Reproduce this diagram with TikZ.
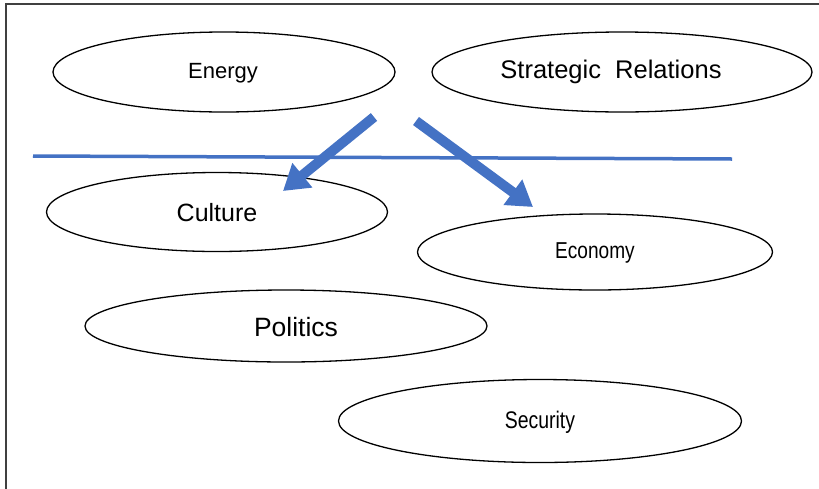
\documentclass[tikz,border=0pt]{standalone}
\usepackage{fontspec}
\usepackage{graphicx}
\setmainfont{Liberation Sans}
\usetikzlibrary{shapes.geometric,arrows.meta}
\definecolor{accent}{HTML}{4472C4}
\definecolor{framegray}{HTML}{404040}

\tikzset{
  topic/.style={ellipse, draw=black, line width=1.3pt, inner sep=0pt},
  caption/.style={inner sep=0pt, anchor=center, text=black},
  flow/.style={draw=accent, line width=10pt, -{Triangle[width=30pt,length=25pt]}},
  divider/.style={draw=accent, line width=3.5pt},
}

\newcommand{\sz}[1]{\fontsize{#1}{#1}\selectfont}

\begin{document}
\begin{tikzpicture}[x=1pt,y=-1pt]
  \useasboundingbox (0,0) rectangle (819,488);

  % outer frame (continues past the right and bottom edges)
  \draw[framegray, line width=2pt] (6,500) -- (6,4) -- (830,4);

  % topic ellipses
  \node[topic, minimum width=342pt, minimum height=80pt] (energy)    at (224,72)  {};
  \node[topic, minimum width=380pt, minimum height=80pt] (strategic) at (622,72)  {};
  \node[topic, minimum width=341pt, minimum height=79pt] (culture)   at (217,212) {};
  \node[topic, minimum width=355pt, minimum height=76pt] (economy)   at (595,252) {};
  \node[topic, minimum width=402pt, minimum height=72pt] (politics)  at (286,326) {};
  \node[topic, minimum width=403pt, minimum height=83pt] (security)  at (540,421) {};

  % captions
  \node[caption] (energy-t)    at (223,73)  {\sz{22}Energy};
  \node[caption] (strategic-t) at (611,72)  {\sz{25.5}Strategic\ \ Relations};
  \node[caption] (culture-t)   at (217,213) {\sz{25}Culture};
  \node[caption] (economy-t)   at (595,253) {\scalebox{0.83}[1]{\sz{23}Economy}};
  \node[caption] (politics-t)  at (296,327) {\sz{26.5}Politics};
  \node[caption] (security-t)  at (540,422) {\scalebox{0.81}[1]{\sz{24}Security}};

  % dividing line
  \coordinate (div-a) at (33,156);
  \coordinate (div-b) at (732,159);
  \draw[divider] (div-a) -- (div-b);

  % arrows
  \coordinate (a1-start) at (374,117);
  \coordinate (a1-end)   at (283,191);
  \coordinate (a2-start) at (416,121);
  \coordinate (a2-end)   at (533,207);
  \draw[flow] (a1-start) -- (a1-end);
  \draw[flow] (a2-start) -- (a2-end);
\end{tikzpicture}
\end{document}
